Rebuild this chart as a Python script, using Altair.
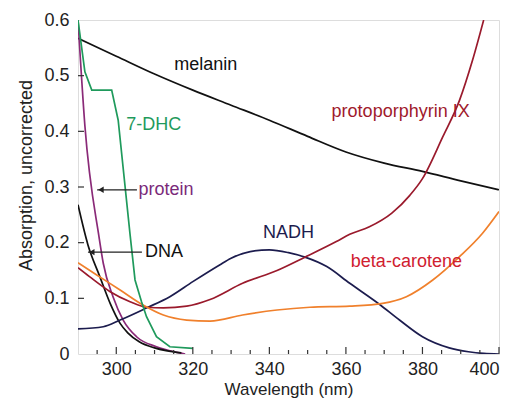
import altair as alt
import pandas as pd

# ---- data ----
melanin_nm = [290, 300, 310, 320, 330, 340, 350, 360, 370, 380, 390, 400]
melanin_abs = [0.567, 0.535, 0.503, 0.474, 0.447, 0.420, 0.391, 0.363, 0.343, 0.328, 0.311, 0.295]

dhc_nm = [290, 291.8, 293.6, 298.8, 300.5, 303.6, 304.9, 306.6, 307.9, 310.5, 314, 320]
dhc_abs = [0.600, 0.507, 0.474, 0.474, 0.420, 0.215, 0.133, 0.094, 0.067, 0.031, 0.013, 0.010]

protein_nm = [290, 291.8, 295.5, 296.6, 299.2, 301.8, 305.3, 310.5, 316.6, 318]
protein_abs = [0.600, 0.410, 0.210, 0.163, 0.102, 0.061, 0.031, 0.013, 0.002, 0.0]

dna_nm = [290, 292.6, 295.7, 298.4, 301, 303, 306, 310, 313, 317]
dna_abs = [0.268, 0.196, 0.139, 0.091, 0.055, 0.038, 0.022, 0.011, 0.006, 0.002]

nadh_nm = [290, 296.6, 301, 308, 314, 320, 327, 330, 335, 340, 345, 349.3, 355, 361, 369, 374, 380, 387, 392, 396, 400]
nadh_abs = [0.045, 0.049, 0.061, 0.083, 0.103, 0.130, 0.160, 0.172, 0.184, 0.187, 0.182, 0.174,
            0.157, 0.127, 0.088, 0.061, 0.031, 0.011, 0.004, 0.001, 0.0]

pp_nm = [290, 293, 298.4, 303.6, 308, 312.3, 318.4, 324.5, 333, 342, 349.3, 357.5, 361, 366, 372, 376.7,
         380, 385.3, 389.7, 393.1, 396]
pp_abs = [0.155, 0.139, 0.112, 0.094, 0.084, 0.083, 0.086, 0.098, 0.127, 0.150, 0.174, 0.202, 0.215,
          0.228, 0.253, 0.285, 0.315, 0.390, 0.456, 0.528, 0.600]

bc_nm = [290, 294.9, 301, 307, 312.3, 318.4, 324.5, 333, 342, 350.6, 361, 369.6, 375.8, 382.7, 389.7, 395.7, 400]
bc_abs = [0.164, 0.142, 0.115, 0.088, 0.070, 0.061, 0.059, 0.070, 0.079, 0.084, 0.086, 0.091, 0.103,
          0.133, 0.175, 0.217, 0.256]

series_names = ["melanin", "7-DHC", "protein", "DNA", "NADH", "protoporphyrin IX", "beta-carotene"]
series_colors = ["#111111", "#1f9a5c", "#8a2a78", "#111111", "#1c1c4e", "#9a1a2c", "#f0802c"]

label_text = ["melanin", "7-DHC", "protein", "DNA", "NADH", "beta-carotene", "protoporphyrin IX"]
label_nm = [323.4, 309.8, 313.0, 312.5, 345.0, 375.8, 374.3]
label_abs = [0.519, 0.411, 0.295, 0.183, 0.217, 0.165, 0.435]
label_color = ["#111111", "#1f9a5c", "#7a2a7a", "#111111", "#1c1c4e", "#d02030", "#a01a2c"]

arrow_start_nm = [305.4, 306.7]
arrow_head_nm = [295.0, 292.6]
arrow_abs = [0.295, 0.183]

x_major = [300, 320, 340, 360, 380, 400]
x_minor = [295, 305, 310, 315, 325, 330, 335, 345, 350, 355, 365, 370, 375, 385, 390, 395]
y_ticks = [0.1, 0.2, 0.3, 0.4, 0.5]

# ---- tables ----
rows = []
for name, nm, ab in [("melanin", melanin_nm, melanin_abs), ("7-DHC", dhc_nm, dhc_abs),
                     ("protein", protein_nm, protein_abs), ("DNA", dna_nm, dna_abs),
                     ("NADH", nadh_nm, nadh_abs), ("protoporphyrin IX", pp_nm, pp_abs),
                     ("beta-carotene", bc_nm, bc_abs)]:
    for i, (a, b) in enumerate(zip(nm, ab)):
        rows.append({"series": name, "nm": a, "abs": b, "order": i})
df = pd.DataFrame(rows)

labels_df = pd.DataFrame({"text": label_text, "nm": label_nm, "abs": label_abs, "color": label_color})
arrows_df = pd.DataFrame({"nm": arrow_start_nm, "nm2": arrow_head_nm, "abs": arrow_abs})
heads_df = pd.DataFrame({"nm": [h + 1.0 for h in arrow_head_nm], "abs": arrow_abs})

FONT = "Liberation Sans"
xscale = alt.Scale(domain=[290, 400], nice=False, zero=False)
yscale = alt.Scale(domain=[0, 0.6], nice=False)

xaxis = alt.Axis(values=x_major, ticks=False, domain=False, grid=False, labelPadding=6,
                 labelFontSize=18, labelColor="#222", labelFont=FONT, title="Wavelength (nm)",
                 titleFontSize=17, titleFontWeight="normal", titleFont=FONT, titleColor="#222",
                 titlePadding=3)
yaxis = alt.Axis(values=[0, 0.1, 0.2, 0.3, 0.4, 0.5, 0.6], format=".1~f", ticks=False, domain=False,
                 grid=False, labelPadding=9, labelFontSize=18, labelColor="#222", labelFont=FONT,
                 title="Absorption, uncorrected", titleFontSize=18, titleFontWeight="normal",
                 titleFont=FONT, titleColor="#222", titlePadding=8, titleY=155)

base_lines = alt.Chart(df).transform_filter(alt.datum.series != "7-DHC").mark_line(
    strokeWidth=1.7, interpolate="monotone", clip=True
).encode(
    x=alt.X("nm:Q", scale=xscale, axis=xaxis),
    y=alt.Y("abs:Q", scale=yscale, axis=yaxis),
    color=alt.Color("series:N", scale=alt.Scale(domain=series_names, range=series_colors), legend=None),
    detail="series:N",
    order="order:Q",
)

dhc_line = alt.Chart(df).transform_filter(alt.datum.series == "7-DHC").mark_line(
    strokeWidth=1.7, interpolate="linear", clip=True, color="#1f9a5c"
).encode(x="nm:Q", y="abs:Q", order="order:Q")

labels = alt.Chart(labels_df).mark_text(fontSize=18, font=FONT, align="center", baseline="middle").encode(
    x="nm:Q", y="abs:Q", text="text:N", color=alt.Color("color:N", scale=None)
)

arrow_lines = alt.Chart(arrows_df).mark_rule(color="#222", strokeWidth=1.3).encode(
    x="nm:Q", x2="nm2:Q", y="abs:Q"
)
arrow_heads = alt.Chart(heads_df).mark_point(shape="triangle-left", filled=True, size=40,
                                              color="#222", opacity=1).encode(x="nm:Q", y="abs:Q")

xmaj = alt.Chart(pd.DataFrame({"nm": x_major})).mark_rule(color="#333", strokeWidth=1.2).encode(
    x="nm:Q", y=alt.value(334), y2=alt.value(327))
xmin = alt.Chart(pd.DataFrame({"nm": x_minor})).mark_rule(color="#333", strokeWidth=1.2).encode(
    x="nm:Q", y=alt.value(334), y2=alt.value(330))
yt = alt.Chart(pd.DataFrame({"abs": y_ticks})).mark_rule(color="#333", strokeWidth=1.2).encode(
    y="abs:Q", x=alt.value(0), x2=alt.value(6))

chart = alt.layer(base_lines, dhc_line, xmaj, xmin, yt, arrow_lines, arrow_heads, labels).properties(
    width=421, height=334,
    autosize=alt.AutoSizeParams(type="none"),
    padding={"left": 70, "top": 12, "right": 9, "bottom": 47},
).configure_view(stroke="#333", strokeWidth=1.5).configure(background="white")

chart.save("out.html", embed_options={"renderer": "svg", "actions": False})
